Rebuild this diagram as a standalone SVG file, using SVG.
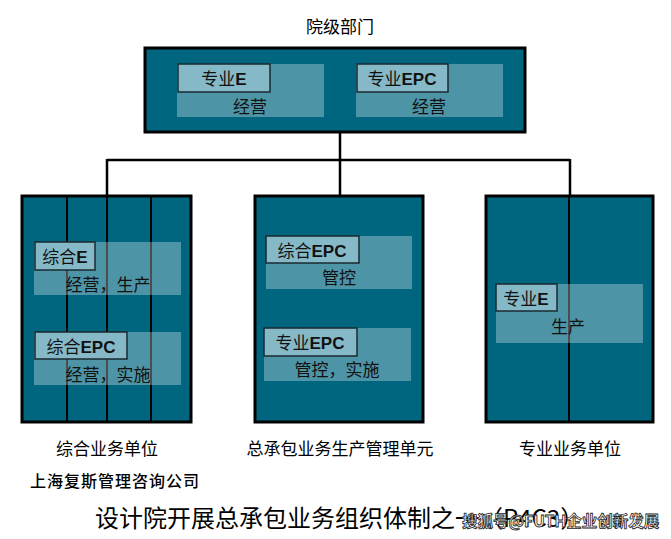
<svg xmlns="http://www.w3.org/2000/svg" width="671" height="539" viewBox="0 0 671 539">
<style>
.box{fill:#006680;stroke:#000;stroke-width:3}
.div{stroke:#000;stroke-width:2}
.panel{fill:#fff;fill-opacity:0.3}
.lbl{fill:#86b9c7;stroke:#1a2a30;stroke-width:1.5}
.t{font-family:"Noto Sans CJK SC","Liberation Sans",sans-serif;font-size:17px;fill:#111;text-anchor:middle}
.b{font-family:"Liberation Sans",Arial,sans-serif;font-weight:bold}
.cap{font-family:"Noto Sans CJK SC","Liberation Sans",sans-serif;font-size:17px;fill:#000;text-anchor:middle}
.conn{stroke:#000;stroke-width:2.5;fill:none}
</style>
<rect width="671" height="539" fill="#fff"/>
<text class="cap" x="340" y="33">院级部门</text>
<g id="connectors">
<path class="conn" d="M340,132 V160 M107,160 H570 M107,159 V196 M340,159 V196 M570,159 V196"/>
</g>
<g id="top">
<rect class="box" x="145" y="48" width="380" height="84"/>
<rect class="panel" x="177" y="64" width="147" height="53"/>
<rect class="lbl" x="178" y="64" width="92" height="28"/>
<text class="t" x="224" y="85">专业<tspan class="b">E</tspan></text>
<text class="t" x="250" y="113">经营</text>
<rect class="panel" x="356" y="64" width="147" height="53"/>
<rect class="lbl" x="357" y="64" width="91" height="28"/>
<text class="t" x="402" y="85">专业<tspan class="b">EPC</tspan></text>
<text class="t" x="429" y="113">经营</text>
</g>
<g id="left">
<rect class="box" x="22" y="196" width="169" height="226"/>
<path class="div" d="M67,196 V422 M107,196 V422 M151,196 V422"/>
<rect class="panel" x="34" y="242" width="147" height="53"/>
<rect class="lbl" x="35" y="242" width="60" height="28"/>
<text class="t" x="65" y="263">综合<tspan class="b">E</tspan></text>
<text class="t" x="108" y="291">经营，生产</text>
<rect class="panel" x="34" y="332" width="147" height="53"/>
<rect class="lbl" x="35" y="332" width="92" height="27"/>
<text class="t" x="81" y="353">综合<tspan class="b">EPC</tspan></text>
<text class="t" x="108" y="381">经营，实施</text>
<text class="cap" x="107" y="455">综合业务单位</text>
</g>
<g id="middle">
<rect class="box" x="255" y="196" width="168" height="226"/>
<rect class="panel" x="266" y="236" width="146" height="53"/>
<rect class="lbl" x="266" y="236" width="93" height="27"/>
<text class="t" x="312" y="257">综合<tspan class="b">EPC</tspan></text>
<text class="t" x="339" y="284">管控</text>
<rect class="panel" x="264" y="328" width="147" height="53"/>
<rect class="lbl" x="264" y="328" width="93" height="28"/>
<text class="t" x="310" y="349">专业<tspan class="b">EPC</tspan></text>
<text class="t" x="337" y="376">管控，实施</text>
<text class="cap" x="340" y="455">总承包业务生产管理单元</text>
</g>
<g id="right">
<rect class="box" x="486" y="196" width="167" height="226"/>
<path class="div" d="M569,196 V422"/>
<rect class="panel" x="496" y="284" width="147" height="59"/>
<rect class="lbl" x="496" y="284" width="61" height="27"/>
<text class="t" x="526" y="305">专业<tspan class="b">E</tspan></text>
<text class="t" x="568" y="333">生产</text>
<text class="cap" x="570" y="455">专业业务单位</text>
</g>
<text x="30" y="487" font-family="Noto Sans CJK SC,sans-serif" font-size="16" font-weight="500" fill="#000" letter-spacing="1">上海复斯管理咨询公司</text>
<text x="95" y="527" font-family="Noto Sans CJK SC,sans-serif" font-size="24" fill="#000">设计院开展总承包业务组织体制之一（P4C3）</text>
<text x="462" y="527" font-family="Noto Sans CJK SC,sans-serif" font-size="15.5" font-weight="bold" fill="#fff" stroke="#222" stroke-width="0.8">搜狐号@FUTH企业创新发展</text>
</svg>
